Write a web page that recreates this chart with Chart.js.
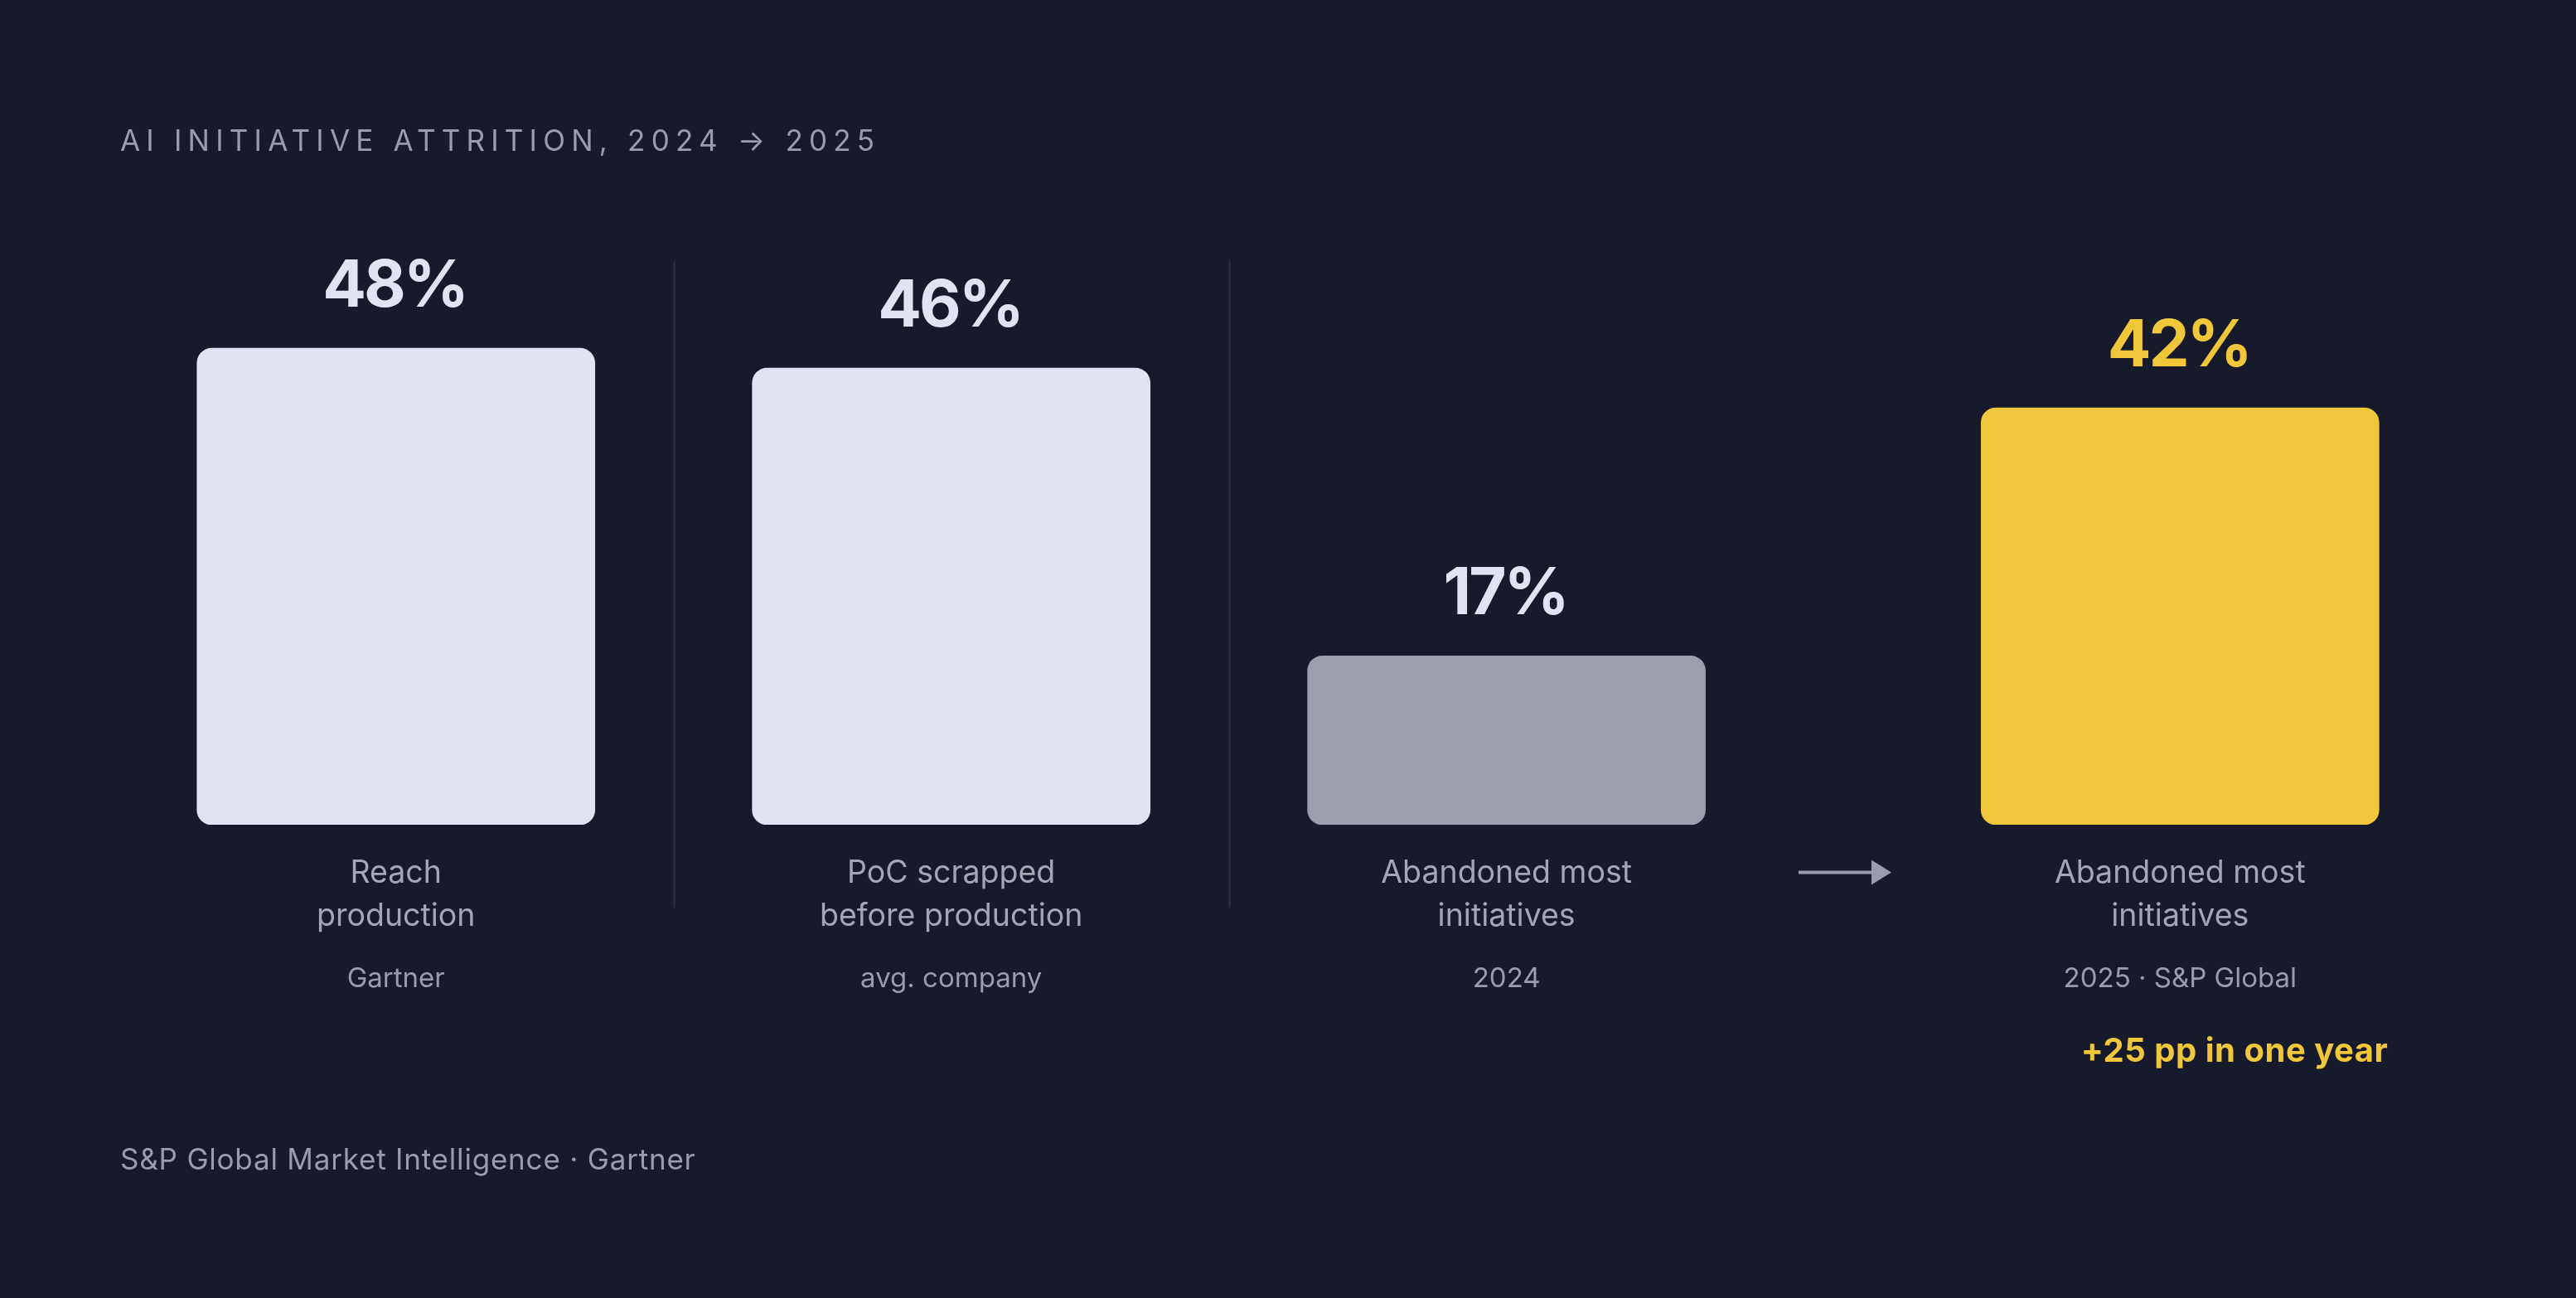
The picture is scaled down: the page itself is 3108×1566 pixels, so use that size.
<!DOCTYPE html>
<html>
<head>
<meta charset="utf-8">
<script src="https://cdn.jsdelivr.net/npm/chart.js@4.4.1/dist/chart.umd.min.js"></script>
<style>
  html, body { margin: 0; padding: 0; background: #171a2b; }
  #wrap { width: 3108px; height: 1566px; position: relative; }
</style>
</head>
<body>
<div id="wrap"><canvas id="chart"></canvas></div>
<script>
// values
const categories = [
    ['Reach', 'production'],
    ['PoC scrapped', 'before production'],
    ['Abandoned most', 'initiatives'],
    ['Abandoned most', 'initiatives']
];
const sources = ['Gartner', 'avg. company', '2024', '2025 · S&P Global'];
const values = [48, 46, 17, 42];
const valueLabels = ['48%', '46%', '17%', '42%'];

const titleText = 'AI INITIATIVE ATTRITION, 2024 → 2025';
const footerText = 'S&P Global Market Intelligence · Gartner';
const noteText = '+25 pp in one year';

// layout: the last bar sits after the arrow, a bit further away
const arrowGap = 0.213;
const xPos = values.map((v, i) => i + (i === values.length - 1 ? arrowGap : 0));

const LIGHT = '#e1e4f0';
const GREY = '#9c9eac';
const YELLOW = '#f0c63b';
const FONT = 'Inter, "Noto Sans", sans-serif';

const barColors = [LIGHT, LIGHT, GREY, YELLOW];
const labelColors = [LIGHT, LIGHT, LIGHT, YELLOW];

const decor = {
    id: 'decor',
    beforeDatasetsDraw(chart) {
        const ctx = chart.ctx;
        const x = chart.scales.x;
        ctx.save();
        ctx.strokeStyle = '#2c2f40';
        ctx.lineWidth = 2;
        [0.5, 1.5].forEach(v => {
            const px = Math.round(x.getPixelForValue(v)) + 0.5;
            ctx.beginPath();
            ctx.moveTo(px, 315);
            ctx.lineTo(px, 1095);
            ctx.stroke();
        });
        ctx.restore();
    },
    afterDatasetsDraw(chart) {
        const ctx = chart.ctx;
        const meta = chart.getDatasetMeta(0);
        ctx.save();
        ctx.font = '700 78px ' + FONT;
        ctx.letterSpacing = '-3px';
        ctx.textAlign = 'center';
        ctx.textBaseline = 'alphabetic';
        meta.data.forEach((bar, i) => {
            ctx.fillStyle = labelColors[i];
            ctx.fillText(valueLabels[i], bar.x - 1.5, bar.y - 50);
        });
        ctx.letterSpacing = '0px';

        // arrow between 2024 and 2025
        const b3 = meta.data[2], b4 = meta.data[3];
        const mid = (b3.x + b4.x) / 2;
        const ay = 1052.5;
        ctx.fillStyle = '#9a9cab';
        ctx.fillRect(mid - 54, ay - 2, 92, 4);
        ctx.beginPath();
        ctx.moveTo(mid + 34, ay - 15);
        ctx.lineTo(mid + 58, ay);
        ctx.lineTo(mid + 34, ay + 15);
        ctx.closePath();
        ctx.fill();
        ctx.restore();
    },
    afterDraw(chart) {
        const ctx = chart.ctx;
        ctx.save();
        ctx.textBaseline = 'alphabetic';
        ctx.textAlign = 'left';

        ctx.fillStyle = '#9a9cab';
        ctx.font = '400 35px ' + FONT;
        ctx.letterSpacing = '7.2px';
        ctx.fillText(titleText, 145, 182);

        ctx.letterSpacing = '0.8px';
        ctx.font = '400 35px ' + FONT;
        ctx.fillText(footerText, 145, 1411);

        const b4 = chart.getDatasetMeta(0).data[3];
        ctx.letterSpacing = '0.5px';
        ctx.textAlign = 'right';
        ctx.fillStyle = YELLOW;
        ctx.font = '700 40px ' + FONT;
        ctx.fillText(noteText, b4.x + 251, 1281);
        ctx.restore();
    }
};

const xBase = {
    type: 'linear',
    position: 'bottom',
    offset: false,
    min: -0.5,
    max: values.length - 0.5 + arrowGap,
    grid: { display: false, offset: false },
    border: { display: false },
    afterBuildTicks: scale => { scale.ticks = xPos.map(v => ({ value: v })); }
};

new Chart(document.getElementById('chart').getContext('2d'), {
    type: 'bar',
    data: {
        datasets: [{
            data: values.map((v, i) => ({ x: xPos[i], y: v })),
            backgroundColor: barColors,
            borderRadius: 18,
            borderSkipped: false,
            barThickness: 480
        }]
    },
    options: {
        responsive: true,
        maintainAspectRatio: false,
        animation: false,
        layout: { padding: { top: 276.5, bottom: 271, left: 142.75, right: 142.75 } },
        plugins: {
            legend: { display: false },
            tooltip: { enabled: false },
            title: { display: false }
        },
        scales: {
            y: { display: false, min: 0, max: 60 },
            x: Object.assign({}, xBase, {
                weight: 0,
                afterFit: scale => { scale.height = 150; },
                ticks: {
                    autoSkip: false, maxRotation: 0, minRotation: 0,
                    padding: 25,
                    color: '#a4a6b4',
                    font: { family: FONT, size: 37.5, lineHeight: 1.39 },
                    callback: (value, index) => categories[index]
                }
            }),
            x2: Object.assign({}, xBase, {
                weight: 1,
                afterFit: scale => { scale.height = 150; },
                ticks: {
                    autoSkip: false, maxRotation: 0, minRotation: 0,
                    padding: 8,
                    color: '#9a9cab',
                    font: { family: FONT, size: 33, lineHeight: 1.2 },
                    callback: (value, index) => sources[index]
                }
            })
        }
    },
    plugins: [decor]
});
</script>
</body>
</html>
